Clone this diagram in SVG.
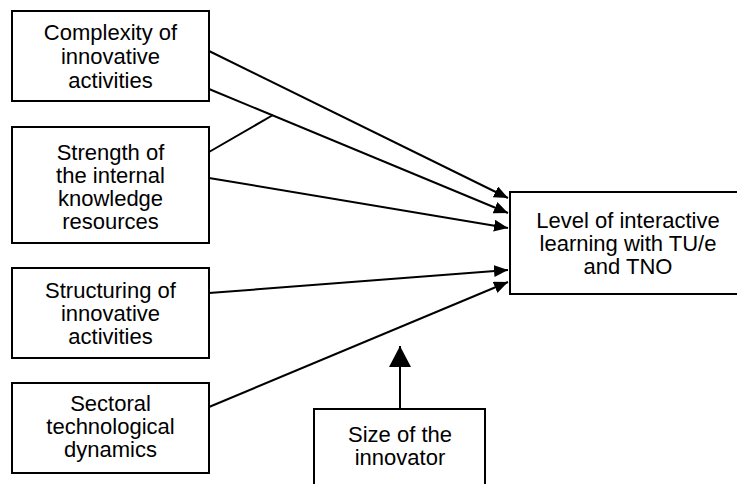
<svg xmlns="http://www.w3.org/2000/svg" width="737" height="484" viewBox="0 0 737 484">
  <style>
    .box { fill: #fff; stroke: #000; stroke-width: 2; }
    .lbl { font-family: "Liberation Sans", Arial, sans-serif; font-size: 22px; fill: #000; text-anchor: middle; }
    .conn { fill: none; stroke: #000; stroke-width: 2; }
  </style>
  <defs>
    <marker id="ah" markerUnits="userSpaceOnUse" markerWidth="15" markerHeight="13" refX="14" refY="6" orient="auto">
      <path d="M0,0 L14,6 L0,12 z" fill="#000"/>
    </marker>
    <marker id="ahBig" markerUnits="userSpaceOnUse" markerWidth="22" markerHeight="23" refX="21" refY="11" orient="auto">
      <path d="M0,0 L21,11 L0,22 z" fill="#000"/>
    </marker>
  </defs>
  <rect width="737" height="484" fill="#fff"/>

  <g id="complexity">
    <rect class="box" x="12" y="11" width="197" height="90"/>
    <text class="lbl" x="110.5" y="40">Complexity of</text>
    <text class="lbl" x="110.5" y="64">innovative</text>
    <text class="lbl" x="110.5" y="88">activities</text>
  </g>
  <g id="strength">
    <rect class="box" x="12" y="127" width="197" height="116"/>
    <text class="lbl" x="110.5" y="160">Strength of</text>
    <text class="lbl" x="110.5" y="183">the internal</text>
    <text class="lbl" x="110.5" y="206">knowledge</text>
    <text class="lbl" x="110.5" y="229">resources</text>
  </g>
  <g id="structuring">
    <rect class="box" x="12" y="268" width="197" height="90"/>
    <text class="lbl" x="110.5" y="298">Structuring of</text>
    <text class="lbl" x="110.5" y="321">innovative</text>
    <text class="lbl" x="110.5" y="344">activities</text>
  </g>
  <g id="sectoral">
    <rect class="box" x="12" y="383" width="197" height="90"/>
    <text class="lbl" x="110.5" y="411">Sectoral</text>
    <text class="lbl" x="110.5" y="434">technological</text>
    <text class="lbl" x="110.5" y="457">dynamics</text>
  </g>
  <g id="level">
    <rect class="box" x="510" y="192" width="240" height="102"/>
    <text class="lbl" x="628" y="228">Level of interactive</text>
    <text class="lbl" x="628" y="251">learning with TU/e</text>
    <text class="lbl" x="628" y="274">and TNO</text>
  </g>
  <g id="size">
    <rect class="box" x="314" y="409" width="171" height="90"/>
    <text class="lbl" x="400" y="442">Size of the</text>
    <text class="lbl" x="400" y="465">innovator</text>
  </g>

  <g id="connectors">
    <line class="conn" x1="209" y1="51" x2="508" y2="198" marker-end="url(#ah)"/>
    <line class="conn" x1="209" y1="89" x2="508" y2="213" marker-end="url(#ah)"/>
    <line class="conn" x1="209" y1="152" x2="273" y2="115"/>
    <line class="conn" x1="209" y1="178" x2="508" y2="228" marker-end="url(#ah)"/>
    <line class="conn" x1="209" y1="293" x2="508" y2="270" marker-end="url(#ah)"/>
    <line class="conn" x1="209" y1="407" x2="508" y2="282" marker-end="url(#ah)"/>
    <line class="conn" x1="400" y1="409" x2="400" y2="346" marker-end="url(#ahBig)"/>
  </g>
</svg>
